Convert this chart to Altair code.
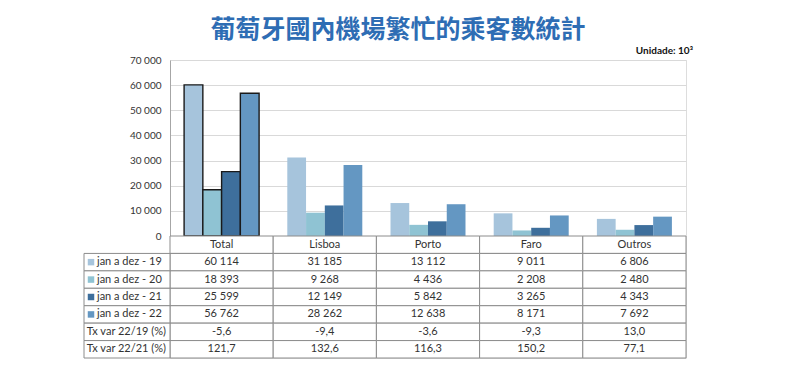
import altair as alt
import pandas as pd

cats = ["Total", "Lisboa", "Porto", "Faro", "Outros"]
series = ["jan a dez - 19", "jan a dez - 20", "jan a dez - 21", "jan a dez - 22"]
v19 = [60114, 31185, 13112, 9011, 6806]
v20 = [18393, 9268, 4436, 2208, 2480]
v21 = [25599, 12149, 5842, 3265, 4343]
v22 = [56762, 28262, 12638, 8171, 7692]
tx_labels = ["Tx var 22/19 (%)", "Tx var 22/21 (%)"]
tx1 = ["-5,6", "-9,4", "-3,6", "-9,3", "13,0"]
tx2 = ["121,7", "132,6", "116,3", "150,2", "77,1"]
colors = ["#a6c4dc", "#8fc3d3", "#3e6f9c", "#6497c2"]
y_ticks = [0, 10000, 20000, 30000, 40000, 50000, 60000, 70000]

title_text = "葡萄牙國內機場繁忙的乘客數統計"
unit_text = "Unidade: 10³"

vals = [v19, v20, v21, v22]
rows = []
for s, vs in zip(series, vals):
    for c, v in zip(cats, vs):
        rows.append({"cat": c, "series": s, "value": v})
df = pd.DataFrame(rows)


def fmt(v):
    return f"{v:,}".replace(",", " ")


row_order = ["hdr"] + series + tx_labels
cells = []
for c in cats:
    cells.append({"cat": c, "row": "hdr", "text": c})
for s, vs in zip(series, vals):
    for c, v in zip(cats, vs):
        cells.append({"cat": c, "row": s, "text": fmt(v)})
for lbl, tv in zip(tx_labels, [tx1, tx2]):
    for c, t in zip(cats, tv):
        cells.append({"cat": c, "row": lbl, "text": t})
cells_df = pd.DataFrame(cells)
lbl_df = pd.DataFrame({"row": series + tx_labels,
                       "kind": ["s"] * 4 + ["t"] * 2})

FONT = "Lato"
TXT = "#333333"
LINE = "#8c8c8c"

xs = alt.Scale(domain=cats, paddingInner=0, paddingOuter=0)

bars = alt.Chart(df).mark_bar(stroke="#1a1a1a").encode(
    x=alt.X("cat:N", sort=cats, scale=xs, axis=None),
    xOffset=alt.XOffset("series:N", sort=series,
                        scale=alt.Scale(domain=series, paddingInner=0, paddingOuter=0.752)),
    y=alt.Y("value:Q", scale=alt.Scale(domain=[0, 70000]),
            axis=alt.Axis(values=y_ticks, title=None, grid=True, gridColor="#d9d9d9",
                          domainColor="#a6a6a6", ticks=False, labelPadding=9,
                          labelFontSize=10, labelColor=TXT, labelFont=FONT,
                          labelExpr="replace(format(datum.value, ','), ',', ' ')")),
    color=alt.Color("series:N", scale=alt.Scale(domain=series, range=colors), legend=None),
    strokeWidth=alt.condition(alt.datum.cat == "Total", alt.value(1.4), alt.value(0)),
)

unit = alt.Chart(pd.DataFrame({"t": [unit_text]})).mark_text(
    align="right", baseline="middle", fontWeight="bold", fontSize=10, font=FONT, color="#111111"
).encode(x=alt.value(523), y=alt.value(-9), text="t:N")

top = alt.layer(bars, unit).properties(
    width=516, height=176,
    title=alt.TitleParams(title_text, font="Noto Sans CJK TC", fontSize=25, fontWeight="bold",
                          color="#2e6db4", anchor="middle", dx=-30, offset=3),
)

ys = alt.Scale(domain=row_order, paddingInner=0, paddingOuter=0)

cell_rect = alt.Chart(cells_df).mark_rect(fill="white", stroke=LINE, strokeWidth=1).encode(
    x=alt.X("cat:N", sort=cats, scale=xs, axis=None),
    y=alt.Y("row:N", sort=row_order, scale=ys, axis=None),
)
cell_text = alt.Chart(cells_df).mark_text(fontSize=11, font=FONT, color=TXT, baseline="middle").encode(
    x=alt.X("cat:N", sort=cats, scale=xs, axis=None),
    y=alt.Y("row:N", sort=row_order, scale=ys, axis=None),
    text="text:N",
)
lbl_rect = alt.Chart(lbl_df).mark_rect(fill="white", stroke=LINE, strokeWidth=1).encode(
    x=alt.value(-86), x2=alt.value(0),
    y=alt.Y("row:N", sort=row_order, scale=ys, axis=None),
)
lbl_sq = alt.Chart(lbl_df).transform_filter(alt.datum.kind == "s").mark_square(size=42, opacity=1).encode(
    x=alt.value(-79),
    y=alt.Y("row:N", sort=row_order, scale=ys, axis=None),
    color=alt.Color("row:N", scale=alt.Scale(domain=series, range=colors), legend=None),
)
lbl_s = alt.Chart(lbl_df).transform_filter(alt.datum.kind == "s").mark_text(
    align="left", baseline="middle", fontSize=11, font=FONT, color=TXT).encode(
    x=alt.value(-73),
    y=alt.Y("row:N", sort=row_order, scale=ys, axis=None),
    text="row:N",
)
lbl_t = alt.Chart(lbl_df).transform_filter(alt.datum.kind == "t").mark_text(
    align="right", baseline="middle", fontSize=11, font=FONT, color=TXT).encode(
    x=alt.value(-4),
    y=alt.Y("row:N", sort=row_order, scale=ys, axis=None),
    text="row:N",
)

table = alt.layer(cell_rect, cell_text, lbl_rect, lbl_sq, lbl_s, lbl_t).properties(width=516, height=122)

chart = alt.vconcat(top, table, spacing=0, bounds="flush").properties(
    padding={"left": 75, "top": 9, "right": 5, "bottom": 5}
).configure_view(strokeWidth=0).configure(font=FONT)

chart.save("out.html", embed_options={"renderer": "svg", "actions": False})
